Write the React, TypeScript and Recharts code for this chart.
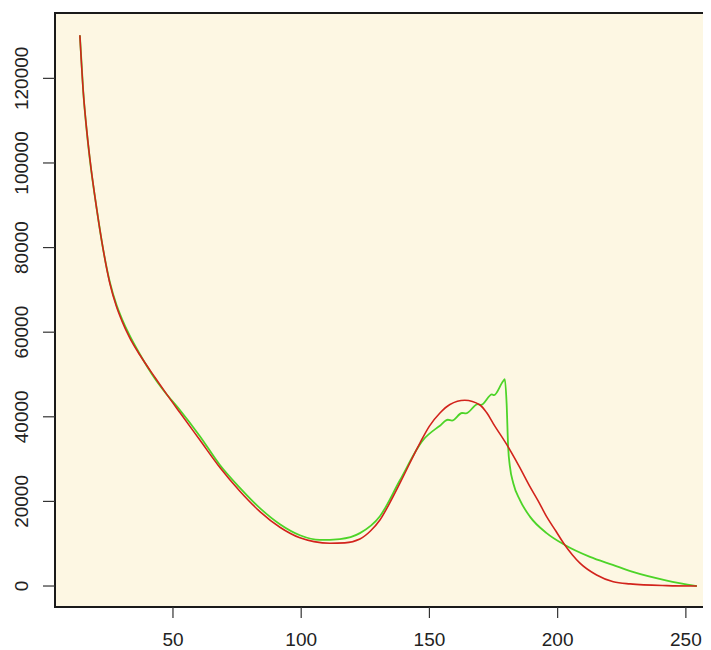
import React from "react";
import { LineChart, Line, XAxis, YAxis, ReferenceArea } from "recharts";

const xTicks = [50, 100, 150, 200, 250];
const yTicks = [0, 20000, 40000, 60000, 80000, 100000, 120000];

const redX = [13.7, 15.0, 16.5, 17.6, 20.3, 22.8, 25.4, 28.0, 30.0, 33.2, 37.1, 43.0, 46.9, 52.7, 60.5, 68.3, 76.1, 83.9, 91.7, 99.5, 105.0, 111.2, 117.0, 122.9, 127.0, 130.7, 134.5, 138.5, 146.3, 150.0, 154.1, 158.0, 163.8, 169.7, 172.3, 174.9, 180.7, 185.0, 189.2, 192.5, 195.7, 199.3, 202.8, 205.7, 208.7, 215.2, 221.7, 228.2, 242.6, 254.3];
const redY = [130200, 117000, 107000, 101000, 89000, 79500, 71500, 66000, 62800, 58600, 54600, 49300, 45900, 41000, 34500, 28000, 22400, 17600, 13900, 11400, 10500, 10100, 10200, 11100, 13000, 15600, 19600, 24300, 33800, 37800, 40900, 42900, 43900, 42800, 41000, 38400, 32900, 28300, 23500, 20000, 16400, 13000, 9700, 7400, 5400, 2600, 1000, 500, 100, 0];

const greenX = [13.7, 15.0, 16.5, 17.6, 20.3, 22.8, 25.4, 28.0, 30.0, 33.2, 37.1, 43.0, 46.9, 52.7, 60.5, 68.3, 76.1, 83.9, 91.7, 99.5, 107.3, 115.1, 122.9, 130.7, 138.5, 147.5, 154.1, 157.2, 158.8, 162.7, 164.2, 168.9, 170.1, 174.4, 175.1, 178.7, 179.4, 180.1, 180.7, 181.4, 182.7, 185.3, 189.2, 195.7, 202.8, 212.6, 221.5, 229.0, 242.6, 254.3];
const greenY = [130200, 117000, 106800, 100800, 89000, 79500, 71800, 66400, 63300, 59100, 54800, 49000, 45800, 41600, 35400, 28600, 23200, 18400, 14600, 12000, 10900, 11100, 12500, 16500, 25000, 34500, 37900, 39300, 39100, 40900, 40800, 43000, 42800, 45300, 45100, 48400, 48900, 43200, 32900, 28200, 24300, 20300, 16400, 12500, 9700, 6900, 5000, 3400, 1300, 0];

const redData = redX.map((x, i) => ({ x, y: redY[i] }));
const greenData = greenX.map((x, i) => ({ x, y: greenY[i] }));

const X_DOMAIN: [number, number] = [4.0, 263.7];
const Y_DOMAIN: [number, number] = [-4960, 135450];

const FONT = "'Liberation Sans', Arial, Helvetica, sans-serif";

const XTick = (props: any) => {
  const { x, payload } = props;
  return (
    <text x={x} y={638} textAnchor="middle" fontFamily={FONT} fontSize={19} fill="#222">
      {payload.value}
    </text>
  );
};

const YTick = (props: any) => {
  const { y, payload } = props;
  return (
    <text
      transform={`translate(20,${y}) rotate(-90)`}
      textAnchor="middle"
      fontFamily={FONT}
      fontSize={19}
      fill="#222"
    >
      {payload.value}
    </text>
  );
};

export default function App() {
  return (
    <div style={{ width: 703, height: 642, overflow: "hidden", background: "#fff" }}>
      <LineChart
        width={730}
        height={642}
        margin={{ top: 5, right: 17, bottom: 0, left: 0 }}
      >
        <XAxis
          dataKey="x"
          type="number"
          domain={X_DOMAIN}
          ticks={xTicks}
          allowDataOverflow
          axisLine={false}
          tickLine={{ stroke: "#333", strokeWidth: 1.2 }}
          tickSize={11}
          tick={<XTick />}
          height={43}
        />
        <YAxis
          dataKey="y"
          type="number"
          domain={Y_DOMAIN}
          ticks={yTicks}
          allowDataOverflow
          axisLine={false}
          tickLine={{ stroke: "#333", strokeWidth: 1.2 }}
          tickSize={12}
          tick={<YTick />}
          width={47}
        />
        <ReferenceArea
          x1={X_DOMAIN[0]}
          x2={X_DOMAIN[1]}
          y1={Y_DOMAIN[0]}
          y2={Y_DOMAIN[1]}
          fill="#FDF7E3"
          fillOpacity={1}
          stroke="#1a1a1a"
          strokeWidth={2}
        />
        <Line
          data={greenData}
          dataKey="y"
          type="monotone"
          stroke="#4DD428"
          strokeWidth={1.8}
          dot={false}
          isAnimationActive={false}
        />
        <Line
          data={redData}
          dataKey="y"
          type="monotone"
          stroke="#D2231C"
          strokeWidth={1.6}
          dot={false}
          isAnimationActive={false}
        />
      </LineChart>
    </div>
  );
}
